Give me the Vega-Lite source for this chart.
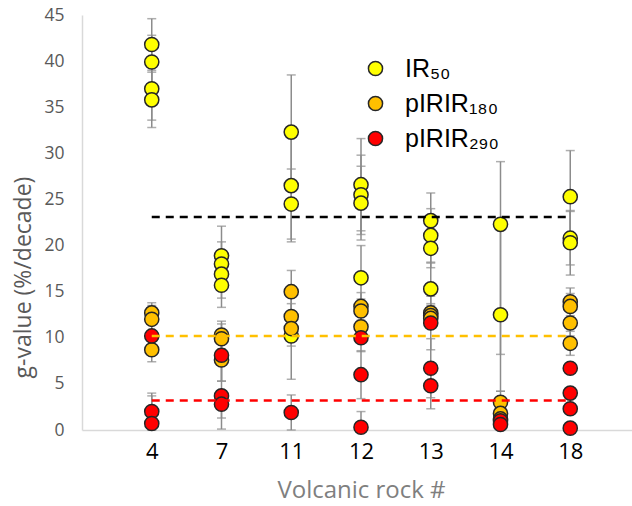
{
  "$schema": "https://vega.github.io/schema/vega-lite/v6.json",
  "width": 558,
  "height": 415,
  "autosize": {"type": "none"},
  "padding": {"left": 82, "top": 15, "right": 0, "bottom": 76},
  "background": "white",
  "config": {"view": {"stroke": null}, "font": "Open Sans"},
  "datasets": {
    "pts": [
      {"rock": "4", "series": "IR₅₀", "g": 41.8, "lo": 39.0, "hi": 44.6},
      {"rock": "4", "series": "IR₅₀", "g": 39.9, "lo": 37.0, "hi": 42.8},
      {"rock": "4", "series": "IR₅₀", "g": 37.0, "lo": 33.6, "hi": 40.4},
      {"rock": "4", "series": "IR₅₀", "g": 35.8, "lo": 32.8, "hi": 38.8},
      {"rock": "7", "series": "IR₅₀", "g": 18.9, "lo": 15.7, "hi": 22.1},
      {"rock": "7", "series": "IR₅₀", "g": 18.0, "lo": 15.6, "hi": 20.4},
      {"rock": "7", "series": "IR₅₀", "g": 16.9, "lo": 14.3, "hi": 19.5},
      {"rock": "7", "series": "IR₅₀", "g": 15.7, "lo": 13.3, "hi": 18.1},
      {"rock": "11", "series": "IR₅₀", "g": 32.3, "lo": 26.1, "hi": 38.5},
      {"rock": "11", "series": "IR₅₀", "g": 26.5, "lo": 20.4, "hi": 32.6},
      {"rock": "11", "series": "IR₅₀", "g": 24.5, "lo": 20.7, "hi": 28.3},
      {"rock": "11", "series": "IR₅₀", "g": 10.2, "lo": 5.5, "hi": 15.0},
      {"rock": "12", "series": "IR₅₀", "g": 26.6, "lo": 21.6, "hi": 31.6},
      {"rock": "12", "series": "IR₅₀", "g": 25.5, "lo": 21.2, "hi": 29.8},
      {"rock": "12", "series": "IR₅₀", "g": 24.6, "lo": 20.6, "hi": 28.6},
      {"rock": "12", "series": "IR₅₀", "g": 16.5, "lo": 13.0, "hi": 20.0},
      {"rock": "13", "series": "IR₅₀", "g": 22.7, "lo": 19.7, "hi": 25.7},
      {"rock": "13", "series": "IR₅₀", "g": 21.1, "lo": 18.2, "hi": 24.0},
      {"rock": "13", "series": "IR₅₀", "g": 19.7, "lo": 17.6, "hi": 21.8},
      {"rock": "13", "series": "IR₅₀", "g": 15.3, "lo": 12.5, "hi": 18.1},
      {"rock": "14", "series": "IR₅₀", "g": 22.3, "lo": 8.2, "hi": 29.1},
      {"rock": "14", "series": "IR₅₀", "g": 12.5, "lo": 4.2, "hi": 22.3},
      {"rock": "18", "series": "IR₅₀", "g": 25.3, "lo": 20.3, "hi": 30.3},
      {"rock": "18", "series": "IR₅₀", "g": 20.8, "lo": 17.9, "hi": 23.7},
      {"rock": "18", "series": "IR₅₀", "g": 20.3, "lo": 16.8, "hi": 23.8},
      {"rock": "4", "series": "pIRIR₁₈₀", "g": 12.7, "lo": 11.6, "hi": 13.8},
      {"rock": "4", "series": "pIRIR₁₈₀", "g": 12.0, "lo": 10.5, "hi": 13.5},
      {"rock": "4", "series": "pIRIR₁₈₀", "g": 8.7, "lo": 7.4, "hi": 10.0},
      {"rock": "7", "series": "pIRIR₁₈₀", "g": 10.3, "lo": 8.8, "hi": 11.8},
      {"rock": "7", "series": "pIRIR₁₈₀", "g": 9.9, "lo": 8.3, "hi": 11.5},
      {"rock": "7", "series": "pIRIR₁₈₀", "g": 7.6, "lo": 5.3, "hi": 9.9},
      {"rock": "11", "series": "pIRIR₁₈₀", "g": 15.0, "lo": 12.7, "hi": 17.3},
      {"rock": "11", "series": "pIRIR₁₈₀", "g": 12.3, "lo": 10.9, "hi": 13.7},
      {"rock": "11", "series": "pIRIR₁₈₀", "g": 11.0, "lo": 9.1, "hi": 12.9},
      {"rock": "12", "series": "pIRIR₁₈₀", "g": 13.4, "lo": 11.9, "hi": 14.9},
      {"rock": "12", "series": "pIRIR₁₈₀", "g": 12.9, "lo": 11.6, "hi": 14.2},
      {"rock": "12", "series": "pIRIR₁₈₀", "g": 11.2, "lo": 9.6, "hi": 12.8},
      {"rock": "13", "series": "pIRIR₁₈₀", "g": 12.7, "lo": 11.7, "hi": 13.7},
      {"rock": "13", "series": "pIRIR₁₈₀", "g": 12.4, "lo": 11.3, "hi": 13.5},
      {"rock": "13", "series": "pIRIR₁₈₀", "g": 12.1, "lo": 11.2, "hi": 13.0},
      {"rock": "14", "series": "pIRIR₁₈₀", "g": 3.0, "lo": 1.8, "hi": 4.2},
      {"rock": "14", "series": "pIRIR₁₈₀", "g": 1.8, "lo": 0.6, "hi": 3.0},
      {"rock": "14", "series": "pIRIR₁₈₀", "g": 1.2, "lo": 0.4, "hi": 2.0},
      {"rock": "18", "series": "pIRIR₁₈₀", "g": 13.9, "lo": 12.4, "hi": 15.4},
      {"rock": "18", "series": "pIRIR₁₈₀", "g": 13.4, "lo": 12.0, "hi": 14.8},
      {"rock": "18", "series": "pIRIR₁₈₀", "g": 11.6, "lo": 10.2, "hi": 13.0},
      {"rock": "18", "series": "pIRIR₁₈₀", "g": 9.4, "lo": 8.1, "hi": 10.7},
      {"rock": "4", "series": "pIRIR₂₉₀", "g": 10.2, "lo": 9.8, "hi": 10.6},
      {"rock": "4", "series": "pIRIR₂₉₀", "g": 2.0, "lo": 0.0, "hi": 4.0},
      {"rock": "4", "series": "pIRIR₂₉₀", "g": 0.7, "lo": 0.0, "hi": 3.7},
      {"rock": "7", "series": "pIRIR₂₉₀", "g": 8.1, "lo": 5.3, "hi": 10.9},
      {"rock": "7", "series": "pIRIR₂₉₀", "g": 3.7, "lo": 0.1, "hi": 7.3},
      {"rock": "7", "series": "pIRIR₂₉₀", "g": 2.8, "lo": 1.3, "hi": 4.3},
      {"rock": "11", "series": "pIRIR₂₉₀", "g": 1.9, "lo": 0.0, "hi": 3.8},
      {"rock": "12", "series": "pIRIR₂₉₀", "g": 10.0, "lo": 8.5, "hi": 11.5},
      {"rock": "12", "series": "pIRIR₂₉₀", "g": 6.0, "lo": 3.4, "hi": 8.6},
      {"rock": "12", "series": "pIRIR₂₉₀", "g": 0.3, "lo": 0.0, "hi": 2.0},
      {"rock": "13", "series": "pIRIR₂₉₀", "g": 11.6, "lo": 8.7, "hi": 14.5},
      {"rock": "13", "series": "pIRIR₂₉₀", "g": 6.7, "lo": 3.5, "hi": 9.9},
      {"rock": "13", "series": "pIRIR₂₉₀", "g": 4.8, "lo": 2.3, "hi": 7.3},
      {"rock": "14", "series": "pIRIR₂₉₀", "g": 1.0, "lo": 0.6, "hi": 1.4},
      {"rock": "14", "series": "pIRIR₂₉₀", "g": 0.6, "lo": 0.2, "hi": 1.0},
      {"rock": "18", "series": "pIRIR₂₉₀", "g": 6.7, "lo": 6.4, "hi": 7.0},
      {"rock": "18", "series": "pIRIR₂₉₀", "g": 4.0, "lo": 3.7, "hi": 4.3},
      {"rock": "18", "series": "pIRIR₂₉₀", "g": 2.3, "lo": 2.0, "hi": 2.6},
      {"rock": "18", "series": "pIRIR₂₉₀", "g": 0.2, "lo": 0.0, "hi": 0.5}
    ],
    "means": [
      {"series": "IR₅₀", "from": "4", "to": "18", "mean": 23.1},
      {"series": "pIRIR₁₈₀", "from": "4", "to": "18", "mean": 10.2},
      {"series": "pIRIR₂₉₀", "from": "4", "to": "18", "mean": 3.2}
    ]
  },
  "layer": [
    {
      "data": {"name": "pts"},
      "mark": {"type": "rule", "color": "#8c8c8c", "strokeWidth": 1.5},
      "encoding": {
        "x": {"field": "rock", "type": "ordinal", "sort": null,
              "scale": {"type": "point", "padding": 1, "domain": ["4", "7", "11", "12", "13", "14", "18"]},
              "axis": {"title": "Volcanic rock #", "labelAngle": 0, "labelFontSize": 22, "labelColor": "#000000",
                       "labelPadding": 11, "ticks": false, "domainColor": "#d9d9d9", "domainWidth": 1.5,
                       "titleFontSize": 24, "titleColor": "#7f7f7f", "titleFontWeight": "normal", "titlePadding": 16, "grid": false}},
        "y": {"field": "lo", "type": "quantitative",
              "scale": {"domain": [0, 45], "nice": false},
              "axis": {"title": "g-value (%/decade)", "values": [0, 5, 10, 15, 20, 25, 30, 35, 40, 45],
                       "grid": false, "ticks": false, "labelFontSize": 17.5, "labelColor": "#595959", "labelPadding": 18,
                       "domainColor": "#d9d9d9", "domainWidth": 1.5, "titleFontSize": 23, "titleColor": "#595959",
                       "titleFontWeight": "normal", "titlePadding": 8, "titleY": 262}},
        "y2": {"field": "hi"}
      }
    },
    {
      "data": {"name": "pts"},
      "mark": {"type": "tick", "color": "#8c8c8c", "size": 9, "thickness": 1.5},
      "encoding": {
        "x": {"field": "rock", "type": "ordinal", "sort": null},
        "y": {"field": "lo", "type": "quantitative"}
      }
    },
    {
      "data": {"name": "pts"},
      "mark": {"type": "tick", "color": "#8c8c8c", "size": 9, "thickness": 1.5},
      "encoding": {
        "x": {"field": "rock", "type": "ordinal", "sort": null},
        "y": {"field": "hi", "type": "quantitative"}
      }
    },
    {
      "data": {"name": "pts"},
      "mark": {"type": "circle", "opacity": 1, "size": 200, "stroke": "#262626", "strokeWidth": 1.5},
      "encoding": {
        "x": {"field": "rock", "type": "ordinal", "sort": null},
        "y": {"field": "g", "type": "quantitative"},
        "fill": {"field": "series", "type": "nominal",
                 "scale": {"domain": ["IR₅₀", "pIRIR₁₈₀", "pIRIR₂₉₀"], "range": ["#FFFF00", "#FFC000", "#FF0000"]},
                 "legend": {"title": null, "orient": "none", "legendX": 281, "legendY": 41, "padding": 0,
                            "symbolType": "circle", "symbolSize": 200, "symbolStrokeColor": "#262626", "symbolStrokeWidth": 1.5,
                            "symbolOpacity": 1, "labelFontSize": 25, "labelFont": "Liberation Sans", "labelColor": "#000000",
                            "labelOffset": 17, "rowPadding": 9, "labelLimit": 300}}
      }
    },
    {
      "data": {"name": "means"},
      "mark": {"type": "rule", "strokeDash": [8, 6], "strokeWidth": 2.5},
      "encoding": {
        "x": {"field": "from", "type": "ordinal", "sort": null},
        "x2": {"field": "to"},
        "y": {"field": "mean", "type": "quantitative"},
        "color": {"field": "series", "type": "nominal",
                  "scale": {"domain": ["IR₅₀", "pIRIR₁₈₀", "pIRIR₂₉₀"], "range": ["#000000", "#FFC000", "#FF0000"]},
                  "legend": null}
      }
    }
  ],
  "resolve": {"scale": {"color": "independent"}}
}
